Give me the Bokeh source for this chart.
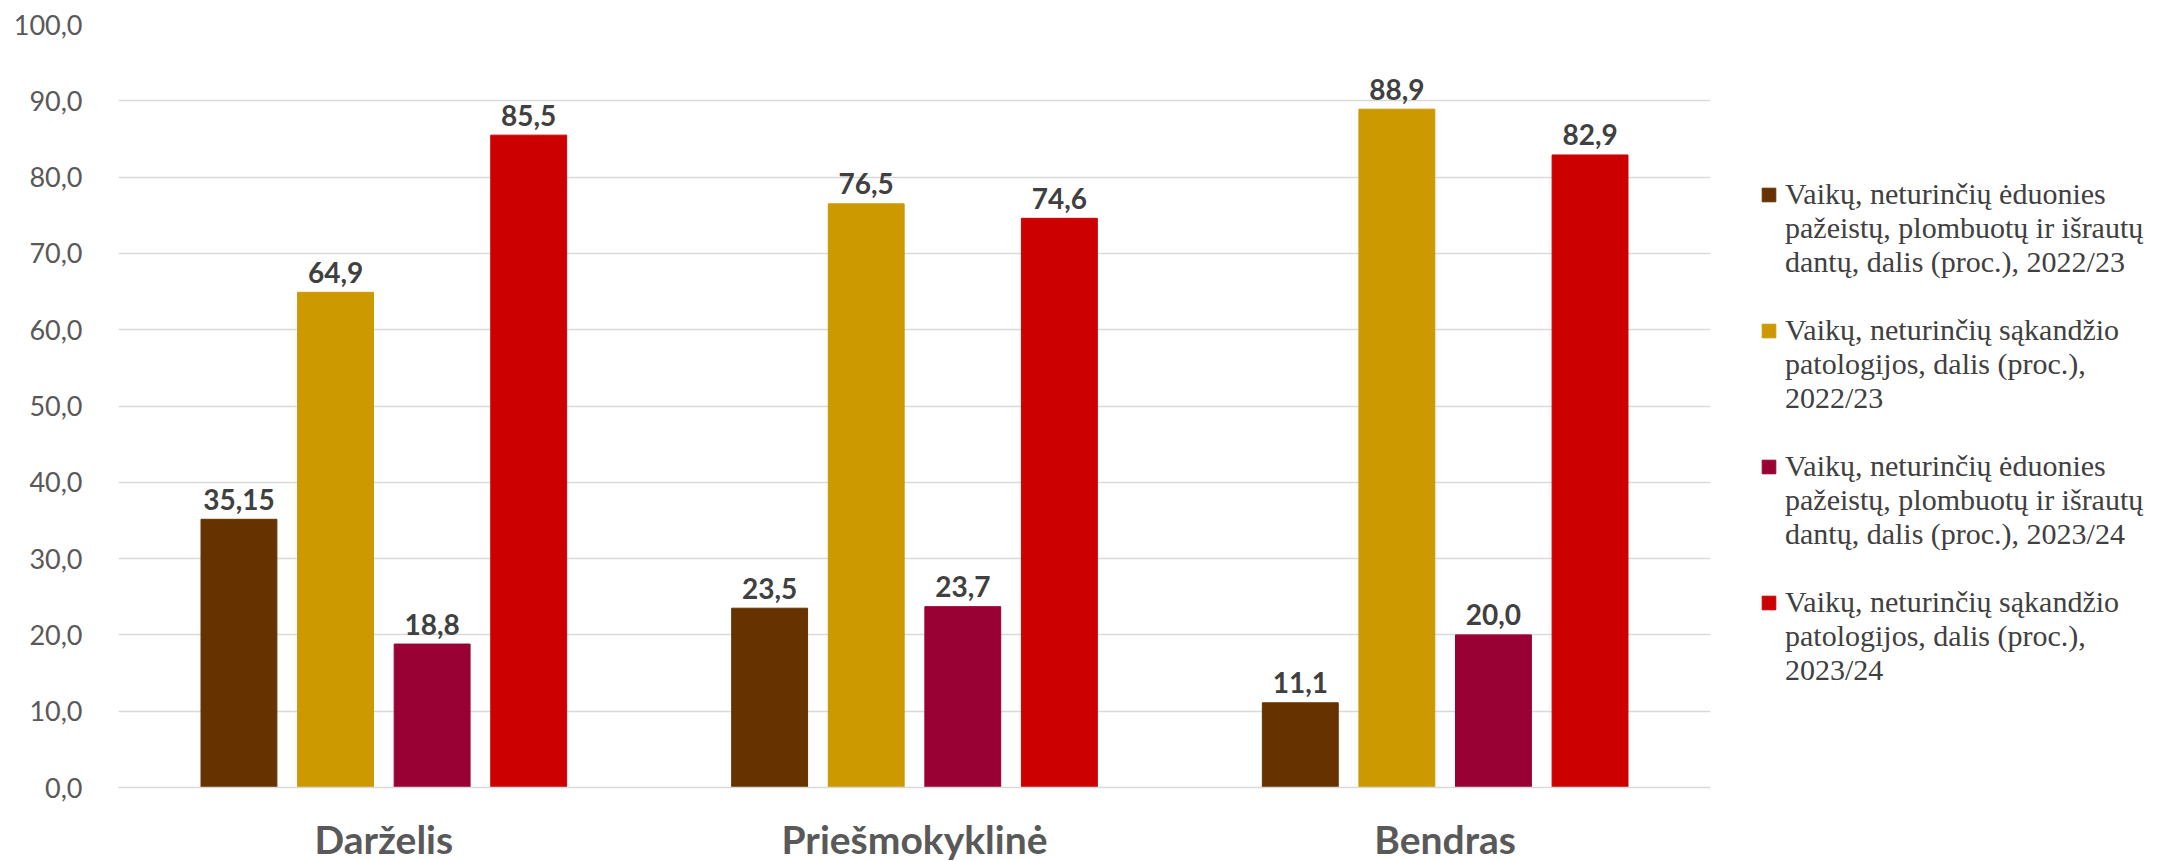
from bokeh.plotting import figure
from bokeh.models import (ColumnDataSource, FactorRange, Range1d, FixedTicker,
                          CustomJSTickFormatter, Legend, LegendItem)
from bokeh.transform import dodge
from bokeh.core.properties import value
from bokeh.embed import file_html
from bokeh.resources import INLINE

categories = ["Darželis", "Priešmokyklinė", "Bendras"]
s1_values = [35.15, 23.5, 11.1]
s2_values = [64.9, 76.5, 88.9]
s3_values = [18.8, 23.7, 20.0]
s4_values = [85.5, 74.6, 82.9]
s1_labels = ["35,15", "23,5", "11,1"]
s2_labels = ["64,9", "76,5", "88,9"]
s3_labels = ["18,8", "23,7", "20,0"]
s4_labels = ["85,5", "74,6", "82,9"]
series_names = [
    ["Vaikų, neturinčių ėduonies", "pažeistų, plombuotų ir išrautų", "dantų, dalis (proc.), 2022/23"],
    ["Vaikų, neturinčių sąkandžio", "patologijos, dalis (proc.),", "2022/23"],
    ["Vaikų, neturinčių ėduonies", "pažeistų, plombuotų ir išrautų", "dantų, dalis (proc.), 2023/24"],
    ["Vaikų, neturinčių sąkandžio", "patologijos, dalis (proc.),", "2023/24"],
]
y_ticks = [0, 10, 20, 30, 40, 50, 60, 70, 80, 90, 100]

colors = ["#663300", "#CC9900", "#990033", "#CC0000"]
offsets = [-0.273, -0.091, 0.091, 0.273]
bar_w = 0.143

src = ColumnDataSource(dict(cat=categories,
                            v1=s1_values, v2=s2_values, v3=s3_values, v4=s4_values,
                            l1=s1_labels, l2=s2_labels, l3=s3_labels, l4=s4_labels))

p = figure(x_range=FactorRange(*categories), y_range=Range1d(0, 100),
           width=2156, height=861, frame_width=1592, frame_height=763,
           min_border_left=118, min_border_right=446, min_border_top=24, min_border_bottom=74,
           output_backend="svg", toolbar_location=None)
p.outline_line_color = None
p.background_fill_color = "white"

# invisible renderer for continuation lines of legend labels
blank = p.scatter(x=[], y=[], fill_color=None, line_color=None)

items = []
for i in range(4):
    r = p.vbar(x=dodge("cat", offsets[i], range=p.x_range), top=f"v{i+1}", width=bar_w,
               source=src, fill_color=colors[i], line_color=colors[i])
    p.text(x=dodge("cat", offsets[i], range=p.x_range), y=f"v{i+1}", text=f"l{i+1}",
           source=src, text_align="center", text_baseline="alphabetic", y_offset=-20,
           text_font=value("Lato"), text_font_style="bold", text_font_size="28px",
           text_color="#404040")
    lines = series_names[i]
    items.append(LegendItem(label=lines[0], renderers=[r]))
    for ln in lines[1:]:
        items.append(LegendItem(label=ln, renderers=[blank]))
    if i < 3:
        items.append(LegendItem(label=" ", renderers=[blank]))

legend = Legend(items=items, location=(50, 100), orientation="vertical",
                background_fill_alpha=0, border_line_color=None,
                label_text_font="Liberation Serif", label_text_font_size="30px",
                label_text_color="#404040", glyph_width=17, glyph_height=17,
                label_height=34, label_standoff=8, spacing=0, padding=0, margin=0)
p.add_layout(legend, "right")

p.xgrid.grid_line_color = None
p.ygrid.grid_line_color = "#D9D9D9"
p.ygrid.grid_line_width = 1.6
p.yaxis.ticker = FixedTicker(ticks=y_ticks)
p.yaxis.formatter = CustomJSTickFormatter(code="return tick.toFixed(1).replace('.', ',');")
p.yaxis.axis_line_color = None
p.yaxis.major_tick_line_color = None
p.yaxis.minor_tick_line_color = None
p.yaxis.major_label_text_font = "Lato"
p.yaxis.major_label_text_font_size = "27px"
p.yaxis.major_label_text_color = "#595959"
p.yaxis.major_label_standoff = 30

p.xaxis.axis_line_color = "#D9D9D9"
p.xaxis.axis_line_width = 1.6
p.xaxis.major_tick_line_color = None
p.xaxis.minor_tick_line_color = None
p.xaxis.major_label_text_font = "Lato"
p.xaxis.major_label_text_font_style = "bold"
p.xaxis.major_label_text_font_size = "39px"
p.xaxis.major_label_text_color = "#595959"
p.xaxis.major_label_standoff = 22

open("out.html", "w").write(file_html(p, INLINE))
